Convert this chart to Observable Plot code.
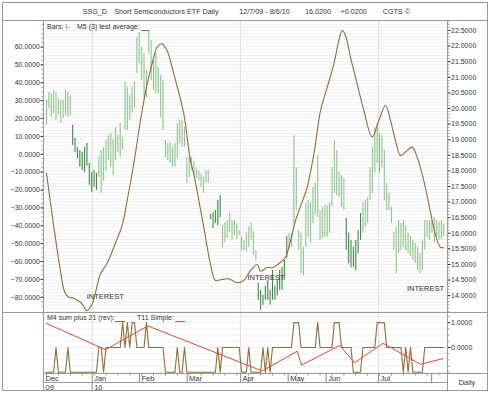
<!DOCTYPE html>
<html><head><meta charset="utf-8">
<script src="https://cdn.jsdelivr.net/npm/d3@7"></script>
<script src="https://cdn.jsdelivr.net/npm/@observablehq/plot@0.6"></script>
<style>
body{margin:0;background:#fff;}
#c{position:relative;width:490px;height:393px;font-family:"Liberation Sans",Arial,Helvetica,sans-serif;color:#222;overflow:hidden;background:#fff}
.ln{position:absolute;background:#9a9a9a}
.t{position:absolute;font-size:7.2px;top:7px;white-space:nowrap;line-height:10px;color:#333}
.lg{position:absolute;font-size:7px;white-space:nowrap;line-height:8px;color:#333}
.u{position:absolute;height:1px}
svg{position:absolute;overflow:visible}
</style></head><body><div id="c"></div>
<script>
// ---------- data ----------
// daily bars (bar index 0..167 = 12/7/09 .. 8/6/10), price scale (right axis)
const barHigh = [20.26,20.52,20.47,20.58,20.52,20.32,20.26,20.26,20.58,20.52,20.40,19.46,19.04,18.75,18.65,18.60,18.75,18.88,18.24,17.95,
18.01,17.92,18.45,18.65,18.75,18.97,19.13,19.20,19.00,19.39,19.13,19.52,19.08,20.84,20.68,20.42,20.68,20.84,22.28,22.44,
21.96,21.76,21.22,22.50,22.18,21.54,21.76,21.31,21.06,20.90,18.97,18.88,18.90,18.75,18.88,19.52,19.62,19.62,19.40,18.43,
18.43,18.43,18.30,18.10,18.01,17.90,17.79,18.01,18.01,16.60,16.66,16.73,17.05,17.21,16.25,16.35,16.41,16.66,16.41,16.41,
16.30,16.09,15.87,15.77,16.00,16.19,16.35,16.05,15.45,14.40,14.17,14.01,14.30,14.49,14.17,14.81,14.30,14.49,14.81,14.90,
15.13,15.90,15.99,16.00,19.13,18.10,16.09,16.00,15.55,16.95,17.05,16.98,17.47,17.60,18.49,16.73,16.83,16.89,16.89,16.98,
18.10,18.97,18.65,17.95,17.85,17.76,16.47,16.00,15.77,15.55,15.77,16.09,16.63,16.98,17.05,17.15,18.10,18.75,19.39,19.52,
19.20,19.13,18.65,17.60,17.28,16.83,16.03,16.19,16.41,16.31,16.41,16.25,16.00,15.90,15.77,15.67,15.55,15.35,15.77,16.41,
16.41,16.41,16.41,16.50,16.41,16.35,16.40,16.30];
const barLow = [19.46,19.99,19.72,19.84,19.62,19.78,19.52,19.68,19.78,19.72,19.75,18.81,18.59,18.40,18.12,18.01,17.95,18.15,17.53,17.31,
17.47,17.37,17.79,17.28,17.66,17.98,18.33,18.10,17.85,18.33,18.59,18.43,18.68,19.29,19.29,19.62,19.84,20.03,21.12,21.44,
20.90,20.35,20.35,21.76,20.90,20.58,20.47,20.47,19.71,19.29,18.43,18.33,18.24,18.12,18.12,18.40,18.88,18.75,18.75,17.60,
17.79,18.01,17.85,17.75,17.69,17.47,17.28,17.60,17.60,16.44,16.15,16.31,16.25,16.50,15.55,15.70,15.83,16.02,15.77,15.93,
15.80,15.93,15.45,15.45,15.40,15.55,15.77,15.30,15.10,13.85,13.53,13.69,13.85,13.85,13.69,13.85,13.85,14.00,14.17,14.17,
14.49,15.20,15.50,15.55,16.19,16.73,15.45,14.70,14.65,15.55,15.87,15.67,16.31,16.60,16.50,15.77,15.83,15.87,15.87,15.99,
16.83,17.27,17.21,17.15,16.83,16.73,15.45,15.03,14.90,14.90,14.81,15.35,15.77,16.00,16.19,16.31,17.05,17.27,17.92,18.24,
17.92,18.10,17.05,16.73,16.73,16.31,15.45,14.71,15.35,15.45,15.55,15.45,15.35,15.25,15.13,15.03,14.81,14.71,14.81,15.45,
15.87,15.77,16.00,15.70,15.85,15.77,15.80,15.90];
// stretches of bars drawn in the darker green: [first index, last index]
const darkRuns = [[11,21],[69,73],[89,101],[126,132]];
// "M5 (3) test average" (left axis), read at points along the curve: [bar index, value]
const avgIdx = [0,3.1,5.6,7.7,9.4,10.8,14.3,17.1,19.2,22.7,25.5,28.3,31.8,33.9,36.7,39.5,42.3,45.1,46.5,48.6,50.7,53.5,57.7,60.5,61.9,66.1,68.9,71,73.1,76.6,80.2,82.9,85.8,88.6,90,92.8,94.9,98.4,100.5,102.6,104.7,108.2,109.6,112.4,115.2,118,120.8,122.9,124.3,125.7,127.8,129.9,133.4,136.9,139.7,142.5,144.6,146.7,148.8,150.9,153.7,155.8,158.6,160.7,162.1,164.2,165.6,167];
const avgVal = [-10.6,-40.8,-63,-77.2,-80,-80.3,-82.8,-87.4,-83.7,-66.9,-61,-52,-39.8,-25.9,-5.3,18.9,39.4,54.3,60,61.8,58,45,22.7,-3.5,-10.9,-40.8,-61.3,-70.6,-70.2,-69.7,-71.9,-70.6,-65,-61.7,-65.4,-63.2,-63.5,-60.4,-57.6,-48.2,-37,-24,-18.4,0.3,24.5,37.5,50.6,63.7,69.3,66.5,54.3,43.1,24.5,9.6,18.9,27.3,18.9,7.7,-0.7,1.2,4,-1.6,-14.7,-27.7,-37,-48.2,-52,-52.3];
// "M4 sum plus 21 (rev)" : runs of [value, number of bars]
const sumRuns = [[-1,4],[0,1],[-1,4],[0,1],[-1,12],[0,2],[-1,1],[0,7],[1,1],[0,1],[1,1],[0,1],[1,2],[0,4],[1,1],[0,7],
[-1,5],[0,1],[-1,2],[0,1],[-1,13],[0,1],[-1,1],[0,8],[-1,3],[0,1],[-1,5],[0,1],[-1,1],[0,1],[-1,1],[0,9],[1,3],[0,7],[1,1],[0,6],
[1,3],[0,5],[-1,4],[0,6],[1,4],[0,7],[-1,1],[0,1],[-1,1],[0,1],[-1,5],[0,9]];
// "T11 Simple" vertices: [bar index, value]
const simpleIdx = [0,24.8,42.6,90.7,105.4,107.2,123.3,129.5,141.5,157.2,166.6];
const simpleVal = [0.97,-0.09,0.87,-0.95,-0.15,-0.71,0.08,-0.62,0.17,-0.68,-0.45];
// annotations
const noteIdx = [24.7, 92.3, 159.3];
const notePrice = [13.97, 14.59, 14.23];
const noteText = ["INTEREST","INTEREST","INTEREST"];
// time axis (positions in bar-index units)
const monthNames = ["Dec","Jan","Feb","Mar","Apr","May","Jun","Jul",""];
const monthPos = [-1.26,19.2,39.1,59.1,81.5,101.6,117.6,139.6,161.9];
const yearNames = ["09","10"];
const yearPos = [-1.26,19.2];
const quarterPos = [19.2,81.5,139.6];
// axis ticks
const priceTicks = d3.range(14,22.51,0.5);
const leftTicks = d3.range(-80,60.1,10);
const lowerTicks = [0,1];
const titleParts = ["SSG_D","Short Semiconductors ETF Daily","12/7/09 - 8/6/10","16.0200","+0.0200","CGTS \u00a9"];

// ---------- build ----------
const C = document.getElementById("c");
function el(cls, css, html){const d=document.createElement("div");d.className=cls;d.style.cssText=css;if(html!=null)d.innerHTML=html;C.appendChild(d);return d;}
const FONT = '"Liberation Sans",Arial,Helvetica,sans-serif';
const BROWN = "#8f6d3a", RED = "#d64a3e", GL = "#8cc48c", GD = "#3d8a43";
const xDomain = [-1.26,168.56];

const isDark = i => darkRuns.some(([a,b]) => i>=a && i<=b);
const bars = barHigh.map((h,i)=>({i, hi:h, lo:barLow[i], dark:isDark(i)}));
const avg = avgIdx.map((x,k)=>({x, v:avgVal[k]}));
const sum = []; sumRuns.forEach(([v,n])=>{for(let k=0;k<n;k++) sum.push({i:sum.length, v});});
const simple = simpleIdx.map((x,k)=>({x, v:simpleVal[k]}));
const notes = noteIdx.map((x,k)=>({x, p:notePrice[k], t:noteText[k]}));

function place(svg, top){svg.style.left="0px";svg.style.top=top+"px";C.appendChild(svg);}
const baseStyle = {fontFamily:FONT, fontSize:"7px", color:"#333", background:"transparent", overflow:"visible"};
const common = {width:490, marginLeft:43, marginRight:43, marginTop:0, marginBottom:0, style:baseStyle, x:{domain:xDomain, axis:null}};

// price panel (right axis)
const pricePlot = Plot.plot({...common, height:292,
  y:{domain:[13.46,22.82]},
  marks:[
    Plot.ruleY(d3.range(13.5,22.81,0.1), {stroke:"#efefef", strokeWidth:1}),
    Plot.ruleX(quarterPos, {stroke:"#dcdcdc"}),
    Plot.ruleX(bars, {x:"i", y1:"lo", y2:"hi", stroke:d=>d.dark?GD:GL, strokeWidth:1.1}),
    Plot.text(notes, {x:"x", y:"p", text:"t", fill:"#333", fontSize:7.5}),
    Plot.axisY(d3.range(13.5,22.81,0.1), {anchor:"right", tickSize:1.5, tickFormat:()=>"", stroke:"#999", label:null}),
    Plot.axisY(priceTicks, {anchor:"right", tickSize:2.5, tickPadding:1, tickFormat:d3.format(".4f"), fill:"#333", label:null})
  ]
});
place(pricePlot, 20);

// average overlay (left axis)
const avgPlot = Plot.plot({...common, height:292,
  y:{domain:[-88.53,74.87]},
  marks:[
    Plot.line(avg, {x:"x", y:"v", stroke:BROWN, strokeWidth:1.1, curve:"catmull-rom"}),
    Plot.axisY(d3.range(-85,74,2.5), {anchor:"left", tickSize:1.5, tickFormat:()=>"", stroke:"#999", label:null}),
    Plot.axisY(leftTicks, {anchor:"left", tickSize:2.5, tickPadding:1, tickFormat:d3.format(".4f"), fill:"#333", label:null})
  ]
});
place(avgPlot, 20);

// lower panel
const lowPlot = Plot.plot({...common, height:61,
  y:{domain:[-1.05,1.41]},
  marks:[
    Plot.ruleY(d3.range(-1,1.41,0.25), {stroke:"#efefef"}),
    Plot.ruleX(quarterPos, {stroke:"#dcdcdc"}),
    Plot.line(sum, {x:"i", y:"v", stroke:BROWN, strokeWidth:1.1}),
    Plot.line(simple, {x:"x", y:"v", stroke:RED, strokeWidth:1}),
    Plot.axisY(d3.range(-1,1.41,0.25), {anchor:"right", tickSize:1.5, tickFormat:()=>"", stroke:"#999", label:null}),
    Plot.axisY(lowerTicks, {anchor:"right", tickSize:2.5, tickPadding:1, tickFormat:d3.format(".4f"), fill:"#333", label:null})
  ]
});
place(lowPlot, 312);

// month row
const monthPlot = Plot.plot({...common, height:10,
  y:{domain:[0,1], axis:null},
  marks:[
    Plot.ruleX(d3.range(0,168,5), {y1:0.75, y2:1, stroke:"#888"}),
    Plot.ruleX(monthPos, {y1:0, y2:1, stroke:"#888"}),
    Plot.text(monthNames.map((m,k)=>({m,x:monthPos[k]})), {x:"x", y:0.45, text:"m", textAnchor:"start", dx:2, fill:"#333", fontSize:7.5})
  ]
});
place(monthPlot, 373);
const yearPlot = Plot.plot({...common, height:9,
  y:{domain:[0,1], axis:null},
  marks:[
    Plot.ruleX(yearPos, {y1:0, y2:1, stroke:"#888"}),
    Plot.text(yearNames.map((m,k)=>({m,x:yearPos[k]})), {x:"x", y:0.45, text:"m", textAnchor:"start", dx:2, fill:"#333", fontSize:7.5})
  ]
});
place(yearPlot, 382);

// frame lines
el("ln","left:2px;top:2px;width:486px;height:1px");
el("ln","left:2px;top:390px;width:486px;height:1px");
el("ln","left:2px;top:2px;width:1px;height:389px");
el("ln","left:487px;top:2px;width:1px;height:389px");
el("ln","left:2px;top:20px;width:486px;height:1px");
el("ln","left:2px;top:312px;width:486px;height:1px");
el("ln","left:43px;top:20px;width:1px;height:371px");
el("ln","left:447px;top:20px;width:1px;height:371px");
el("ln","left:43px;top:373px;width:445px;height:1px");
el("ln","left:43px;top:382px;width:404px;height:1px");
el("lg","left:447px;top:379px;width:40px;text-align:center;font-size:7.5px","Daily");

// title
const tx = [82.7,114.3,239.3,305,340.5,382.7];
titleParts.forEach((t,k)=>el("t","left:"+tx[k]+"px",t));

// legends
el("lg","left:47px;top:23px","Bars: <span style='color:#3d8a43'>I-</span>");
el("lg","left:77px;top:23px","M5 (3) test average:");
el("u","left:141px;top:30px;width:8px;background:"+BROWN);
el("lg","left:47px;top:314px","M4 sum plus 21 (rev):");
el("u","left:115px;top:321px;width:10px;background:"+BROWN);
el("lg","left:137px;top:314px","T11 Simple:");
el("u","left:175px;top:321px;width:10px;background:"+RED);
</script></body></html>
